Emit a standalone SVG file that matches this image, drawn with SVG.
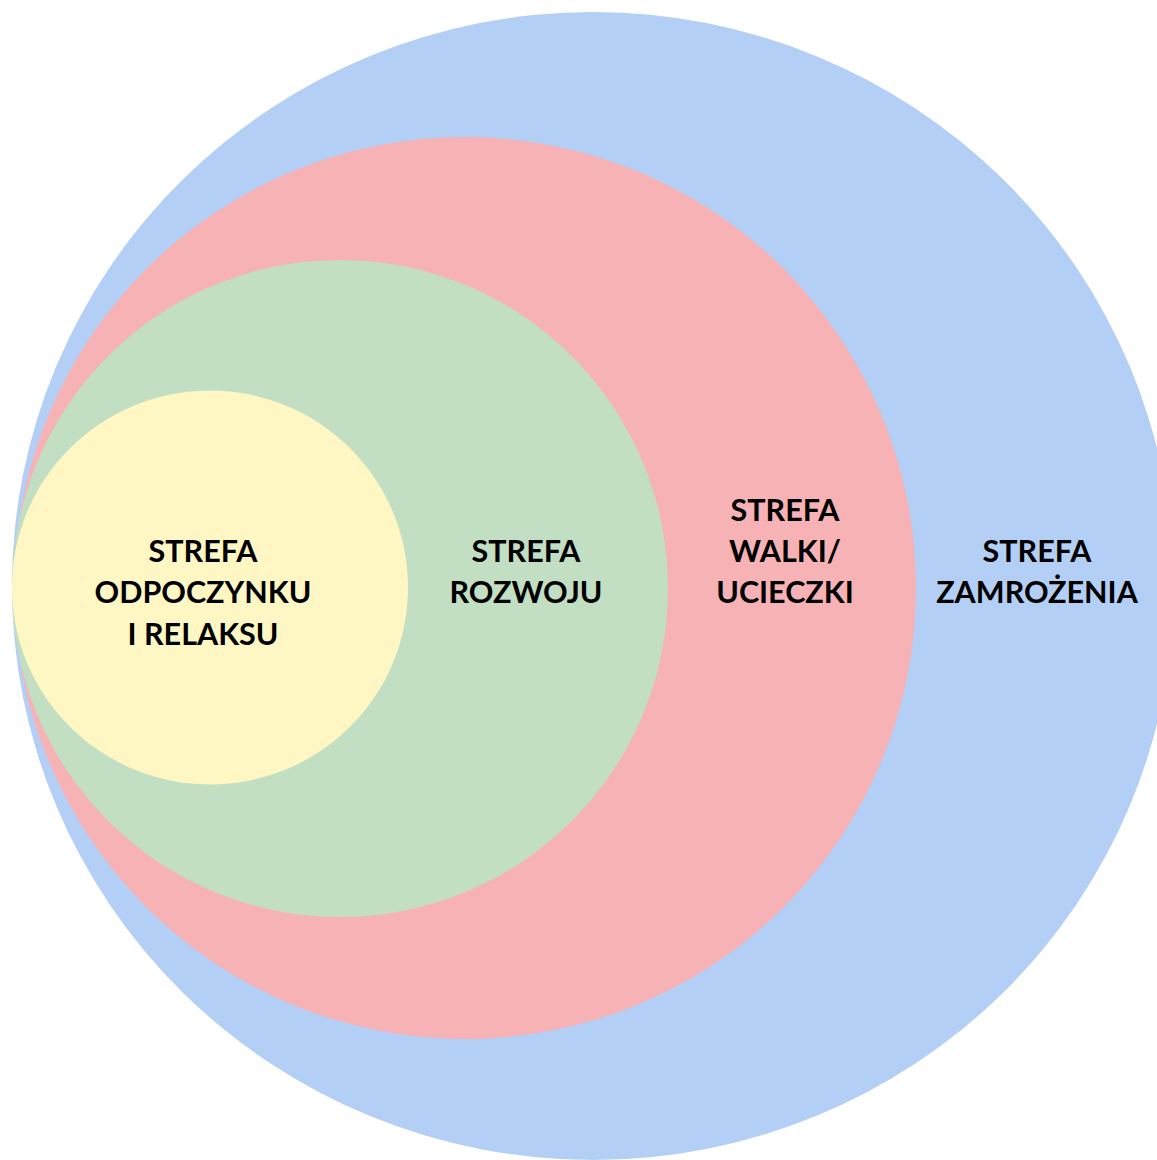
<svg xmlns="http://www.w3.org/2000/svg" width="1157" height="1160" viewBox="0 0 1157 1160">
<style>
.lbl{font-family:Lato,"Liberation Sans",sans-serif;font-weight:bold;font-size:30.5px;fill:#000;text-anchor:middle}
</style>
<rect width="1157" height="1160" fill="#fff"/>
<g id="zamrozenia"><ellipse cx="593" cy="586" rx="581" ry="574" fill="#b4cff5"/></g>
<g id="walki"><ellipse cx="465" cy="588" rx="451" ry="451" fill="#f6b2b5"/></g>
<g id="rozwoju"><ellipse cx="340" cy="588.5" rx="328" ry="328.5" fill="#c2dfc3"/></g>
<g id="odpoczynku"><ellipse cx="210" cy="587.5" rx="198" ry="197" fill="#fef7c3"/></g>
<g id="labels">
<text class="lbl" x="203" y="562">STREFA</text>
<text class="lbl" x="203" y="603">ODPOCZYNKU</text>
<text class="lbl" x="203" y="645">I RELAKSU</text>
<text class="lbl" x="526" y="562">STREFA</text>
<text class="lbl" x="526" y="603">ROZWOJU</text>
<text class="lbl" x="785" y="521">STREFA</text>
<text class="lbl" x="785" y="562">WALKI/</text>
<text class="lbl" x="785" y="603">UCIECZKI</text>
<text class="lbl" x="1037" y="562">STREFA</text>
<text class="lbl" x="1037" y="603">ZAMROŻENIA</text>
</g>
</svg>
